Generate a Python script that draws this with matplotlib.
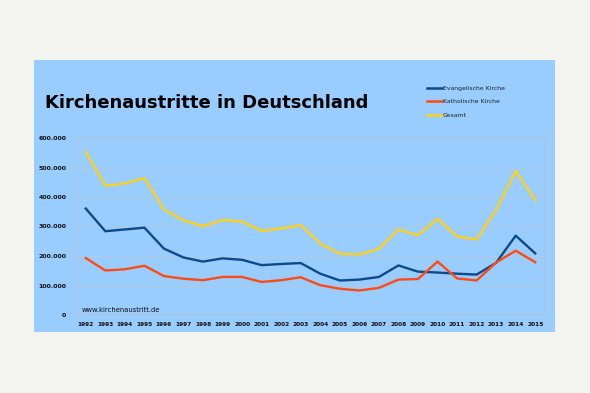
import matplotlib
matplotlib.use("Agg")
import matplotlib.pyplot as plt
from matplotlib.patches import Rectangle
from matplotlib.ticker import FuncFormatter

years = list(range(1992, 2016))
evangelisch = [361, 284, 290, 296, 225, 195, 181, 192, 187, 169, 173, 176,
               140, 117, 120, 129, 168, 147, 144, 140, 137, 177, 269, 209]
katholisch = [193, 151, 155, 167, 132, 123, 118, 129, 129, 112, 118, 128,
              101, 89, 83, 92, 120, 122, 181, 124, 117, 178, 218, 179]
gesamt = [553, 438, 446, 464, 358, 321, 301, 322, 317, 285, 293, 305,
          242, 208, 205, 224, 290, 270, 326, 266, 256, 357, 488, 390]
series_names = ["Evangelische Kirche", "Katholische Kirche", "Gesamt"]
y_ticks = [0, 100, 200, 300, 400, 500, 600]

W, H = 590, 393
fig = plt.figure(figsize=(W / 100, H / 100), dpi=100)
fig.patch.set_facecolor("#f3f3ef")

# blue panel
panel = Rectangle((34 / W, 1 - 332 / H), (555 - 34) / W, (332 - 60) / H,
                  transform=fig.transFigure, facecolor="#99ccff",
                  edgecolor="none", zorder=-5)
fig.add_artist(panel)

ax = fig.add_axes([76 / W, 1 - 315 / H, (545 - 76) / W, (315 - 138) / H])
ax.set_zorder(2)
ax.set_facecolor("#99ccff")
x = list(range(len(years)))
colors = ["#0d4a8c", "#ff4a14", "#ffd21a"]
for vals, name, c in zip([evangelisch, katholisch, gesamt], series_names, colors):
    ax.plot(x, [v * 1000 for v in vals], color=c, lw=1.7, label=name,
            solid_joinstyle="round", zorder=3)

ax.set_xlim(-0.5, len(years) - 0.5)
ax.set_ylim(0, 600000)
ax.set_yticks([t * 1000 for t in y_ticks])
ax.yaxis.set_major_formatter(FuncFormatter(
    lambda v, p: "0" if v == 0 else f"{int(v):,}".replace(",", ".")))
ax.set_xticks(x)
ax.set_xticklabels([str(y) for y in years])
ax.grid(axis="y", color="#b5c8dc", lw=0.6, zorder=1)
for s in ax.spines.values():
    s.set_color("#b0c4d8")
    s.set_linewidth(0.8)
ax.tick_params(axis="x", length=0, labelsize=4.2, pad=5)
ax.tick_params(axis="y", length=0, labelsize=4.5, pad=7)
for lab in ax.get_xticklabels() + ax.get_yticklabels():
    lab.set_fontweight("bold")
    lab.set_color("#111111")

ax.text(0.013, 0.012, "www.kirchenaustritt.de", transform=ax.transAxes,
        fontsize=4.9, color="#111111", va="bottom", ha="left")

fig.text(45 / W, 1 - 103 / H, "Kirchenaustritte in Deutschland",
         fontsize=13, fontweight="bold", color="black", va="center", ha="left")

leg = fig.legend(loc="upper left", bbox_to_anchor=(425 / W, 1 - 83 / H),
                 frameon=False, fontsize=4.4, handlelength=2.4, handletextpad=0.15,
                 labelspacing=1.35, borderaxespad=0)
for t in leg.get_texts():
    t.set_color("#222222")
for l in leg.get_lines():
    l.set_linewidth(1.8)

fig.savefig("out.png", dpi=100, facecolor=fig.get_facecolor())
